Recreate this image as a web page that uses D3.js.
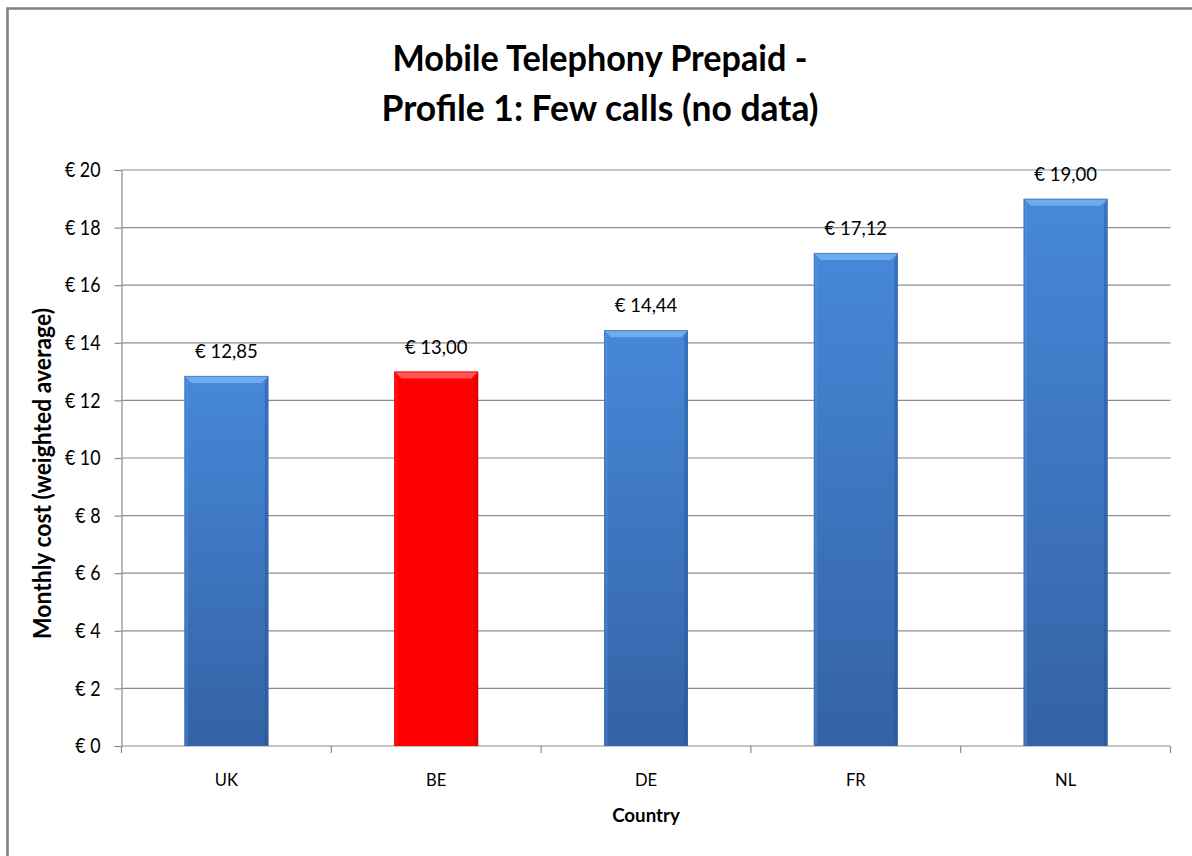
<!DOCTYPE html>
<html>
<head>
<meta charset="utf-8">
<script src="https://cdn.jsdelivr.net/npm/d3@7"></script>
<style>
  html, body { margin: 0; padding: 0; background: #fff; }
  svg { display: block; }
  text { font-family: Lato, "Open Sans", sans-serif; fill: #000; }
</style>
</head>
<body>
<svg id="chart" width="1192" height="856"></svg>
<script>
// Monthly cost per country, profile 1 (few calls, no data)
const countries = ["UK", "BE", "DE", "FR", "NL"];
const costs = [12.85, 13.00, 14.44, 17.12, 19.00];
const highlight = ["BE"];
const yTicks = [0, 2, 4, 6, 8, 10, 12, 14, 16, 18, 20];
const titleLines = ["Mobile Telephony Prepaid -", "Profile 1: Few calls (no data)"];
const xTitle = "Country";
const yTitle = "Monthly cost (weighted average)";

const svg = d3.select("#chart");
const W = 1192, H = 856;
const plot = { left: 121.5, right: 1170.5, top: 170, bottom: 746 };

const defs = svg.append("defs");
function grad(id, stops) {
  const g = defs.append("linearGradient").attr("id", id)
    .attr("x1", 0).attr("y1", 0).attr("x2", 0).attr("y2", 1);
  stops.forEach(s => g.append("stop").attr("offset", s[0]).attr("stop-color", s[1]));
}
grad("blueBody", [[0, "#4688d8"], [1, "#3462a5"]]);
grad("redBody", [[0, "#ff0000"], [1, "#ff0000"]]);

// chart frame
svg.append("rect").attr("x", 7.5).attr("y", 8.5).attr("width", W + 10).attr("height", H + 10)
  .attr("fill", "#fff").attr("stroke", "#808080").attr("stroke-width", 2.5);

const x = d3.scaleBand().domain(countries)
  .range([plot.left, plot.right]).paddingInner(0.6).paddingOuter(0.3);
const y = d3.scaleLinear().domain([0, 20]).range([plot.bottom, plot.top]);

// horizontal gridlines
svg.append("g").selectAll("line").data(yTicks.filter(d => d > 0)).join("line")
  .attr("x1", plot.left).attr("x2", plot.right)
  .attr("y1", d => y(d)).attr("y2", d => y(d))
  .attr("stroke", "#8c8c8c").attr("stroke-width", 1.2);

// y axis (labels slightly condensed)
const tickSx = 0.85;
const yAxis = d3.axisLeft(y).tickValues(yTicks).tickSize(7).tickPadding(14)
  .tickFormat(d => "€ " + d);
const gy = svg.append("g").attr("transform", `translate(${plot.left},0)`).call(yAxis);
gy.select(".domain").attr("stroke", "#8c8c8c").attr("stroke-width", 1.2);
gy.selectAll(".tick line").attr("stroke", "#8c8c8c").attr("stroke-width", 1.2);
gy.selectAll(".tick text")
  .style("font-size", "21px").style("font-family", "Lato, sans-serif").attr("fill", "#000")
  .attr("x", -21 / tickSx).attr("transform", `scale(${tickSx},1)`);

// x axis baseline and category boundary ticks
const boundaries = d3.range(countries.length + 1)
  .map(i => plot.left + i * (plot.right - plot.left) / countries.length);
svg.append("line").attr("x1", plot.left).attr("x2", plot.right)
  .attr("y1", plot.bottom).attr("y2", plot.bottom)
  .attr("stroke", "#8c8c8c").attr("stroke-width", 1.2);
svg.append("g").selectAll("line").data(boundaries).join("line")
  .attr("x1", d => d).attr("x2", d => d)
  .attr("y1", plot.bottom).attr("y2", plot.bottom + 7)
  .attr("stroke", "#8c8c8c").attr("stroke-width", 1.2);

// category labels
const catSx = 0.92;
svg.append("g").selectAll("text").data(countries).join("text")
  .attr("transform", d => `translate(${x(d) + x.bandwidth() / 2},786) scale(${catSx},1)`)
  .attr("text-anchor", "middle").style("font-size", "18px").text(d => d);

// bars with bevelled edges
const bars = svg.append("g").selectAll("g").data(countries.map((c, i) => ({ c, v: costs[i] }))).join("g");
const bev = 7;
bars.each(function (d) {
  const g = d3.select(this);
  const isRed = highlight.includes(d.c);
  const x0 = x(d.c), x1 = x0 + x.bandwidth();
  const y0 = y(d.v), y1 = y(0);
  g.append("rect").attr("x", x0).attr("y", y0).attr("width", x1 - x0).attr("height", y1 - y0)
    .attr("fill", isRed ? "url(#redBody)" : "url(#blueBody)");
  // top bevel
  g.append("path").attr("d", `M${x0},${y0}L${x1},${y0}L${x1 - bev},${y0 + bev}L${x0 + bev},${y0 + bev}Z`)
    .attr("fill", isRed ? "#ff5a5a" : "#74adf0").attr("opacity", 0.95);
  // left bevel
  g.append("path").attr("d", `M${x0},${y0}L${x0 + bev * 0.5},${y0 + bev}L${x0 + bev * 0.5},${y1}L${x0},${y1}Z`)
    .attr("fill", isRed ? "#ff2a2a" : "#5b98e0").attr("opacity", 0.35);
  // right bevel
  g.append("path").attr("d", `M${x1},${y0}L${x1 - bev * 0.5},${y0 + bev}L${x1 - bev * 0.5},${y1}L${x1},${y1}Z`)
    .attr("fill", isRed ? "#c00000" : "#1f4a85").attr("opacity", 0.35);
  // outline
  g.append("rect").attr("x", x0 + 0.5).attr("y", y0 + 0.5).attr("width", x1 - x0 - 1).attr("height", y1 - y0 - 1)
    .attr("fill", "none").attr("stroke", isRed ? "#e00000" : "#3a6db0").attr("stroke-width", 1).attr("opacity", 0.6);
});

// value labels
const fmt = v => "€ " + v.toFixed(2).replace(".", ",");
svg.append("g").selectAll("text").data(countries.map((c, i) => ({ c, v: costs[i] }))).join("text")
  .attr("x", d => x(d.c) + x.bandwidth() / 2).attr("y", d => y(d.v) - 18)
  .attr("text-anchor", "middle").style("font-size", "18.5px").text(d => fmt(d.v));

// title
const titleWidths = [415, 437];
svg.append("g").selectAll("text").data(titleLines).join("text")
  .attr("x", 600).attr("y", (d, i) => 71 + i * 50)
  .attr("text-anchor", "middle").style("font-size", "36px").style("font-weight", "bold")
  .attr("textLength", (d, i) => titleWidths[i]).attr("lengthAdjust", "spacingAndGlyphs")
  .text(d => d);

// axis titles
svg.append("text").attr("transform", "translate(646,822) scale(0.96,1)")
  .attr("text-anchor", "middle").style("font-size", "19.5px").style("font-weight", "bold").text(xTitle);
svg.append("text").attr("transform", "translate(51,473.5) rotate(-90)")
  .attr("text-anchor", "middle").style("font-size", "24px").style("font-weight", "bold")
  .attr("textLength", 331).attr("lengthAdjust", "spacingAndGlyphs").text(yTitle);
</script>
</body>
</html>
